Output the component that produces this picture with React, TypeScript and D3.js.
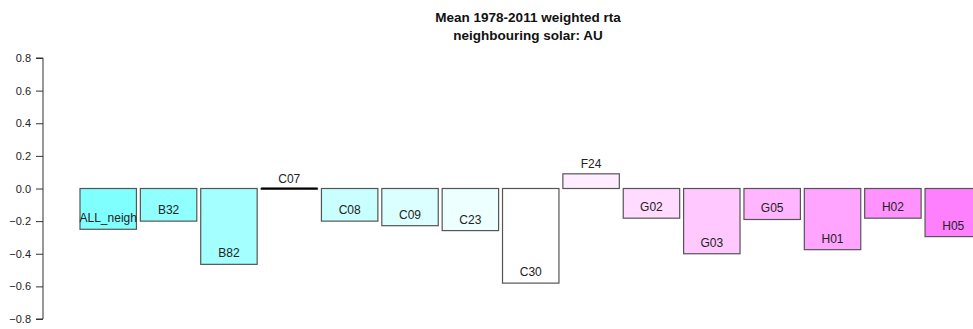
import React, { useRef, useEffect } from "react";
import * as d3 from "d3";

const categories = ["ALL_neigh", "B32", "B82", "C07", "C08", "C09", "C23", "C30", "F24", "G02", "G03", "G05", "H01", "H02", "H05"];
const values = [-0.25, -0.2, -0.465, -0.004, -0.2, -0.228, -0.258, -0.58, 0.09, -0.182, -0.4, -0.19, -0.375, -0.182, -0.295];
const colors = ["#80ffff", "#92ffff", "#a4ffff", "#b6ffff", "#c9ffff", "#dbffff", "#edffff", "#ffffff",
  "#ffedff", "#ffdbff", "#ffc9ff", "#ffb6ff", "#ffa4ff", "#ff92ff", "#ff80ff"];
const yTicks = [-0.8, -0.6, -0.4, -0.2, 0, 0.2, 0.4, 0.6, 0.8];
const titleLines = ["Mean 1978-2011 weighted rta", "neighbouring solar: AU"];

const App = () => {
  const svgRef = useRef<SVGSVGElement>(null);

  useEffect(() => {
    document.body.style.margin = "0";
    const svg = d3.select(svgRef.current);
    svg.selectAll("*").remove();

    const width = 973;
    const height = 329;
    const font = "Arial, 'Liberation Sans', sans-serif";

    const y = d3.scaleLinear().domain([-0.8, 0.8]).range([319, 58]);
    const step = 60.36;
    const gap = 0.065;
    const x = d3.scaleBand<string>()
      .domain(categories)
      .range([80, 80 + step * (categories.length - gap)])
      .paddingInner(gap)
      .paddingOuter(0);

    svg.attr("width", width).attr("height", height).style("display", "block");

    svg.append("rect").attr("width", width).attr("height", height).attr("fill", "#fff");

    // title
    svg.append("g")
      .selectAll("text")
      .data(titleLines)
      .enter()
      .append("text")
      .attr("x", 528)
      .attr("y", (d, i) => 22 + i * 18)
      .attr("text-anchor", "middle")
      .style("font-family", font)
      .style("font-size", "13.5px")
      .style("font-weight", "bold")
      .attr("fill", "#111")
      .text(d => d);

    // y axis
    const axis = svg.append("g")
      .attr("transform", "translate(43,0)")
      .call(d3.axisLeft(y).tickValues(yTicks).tickSize(7).tickPadding(5).tickFormat(d3.format(".1f")));
    axis.select(".domain").attr("stroke", "#333").attr("d", `M-7,${y(0.8)}H0V${y(-0.8)}H-7`);
    axis.selectAll(".tick line").attr("stroke", "#333");
    axis.selectAll(".tick text")
      .style("font-family", font)
      .style("font-size", "11px")
      .attr("fill", "#222");

    const data = categories.map((c, i) => ({ name: c, value: values[i], color: colors[i] }));
    const bw = x.bandwidth();

    const bars = svg.append("g").selectAll("g").data(data).enter().append("g");

    bars.append("rect")
      .attr("x", d => x(d.name)!)
      .attr("y", d => y(Math.max(0, d.value)))
      .attr("width", bw)
      .attr("height", d => Math.abs(y(d.value) - y(0)))
      .attr("fill", d => d.color)
      .attr("stroke", "#555")
      .attr("stroke-width", 1.2);

    // near-zero bars show as a thick line
    bars.filter(d => Math.abs(y(d.value) - y(0)) < 2)
      .append("line")
      .attr("x1", d => x(d.name)!)
      .attr("x2", d => x(d.name)! + bw)
      .attr("y1", y(0))
      .attr("y2", y(0))
      .attr("stroke", "#000")
      .attr("stroke-width", 2);

    bars.append("text")
      .attr("x", d => x(d.name)! + bw / 2)
      .attr("y", d => (d.value < -0.02 ? y(d.value) - 7 : y(Math.max(0, d.value)) - 6))
      .attr("text-anchor", "middle")
      .style("font-family", font)
      .style("font-size", "12px")
      .attr("fill", "#222")
      .text(d => d.name);
  }, []);

  return <svg ref={svgRef}></svg>;
};

export default App;
